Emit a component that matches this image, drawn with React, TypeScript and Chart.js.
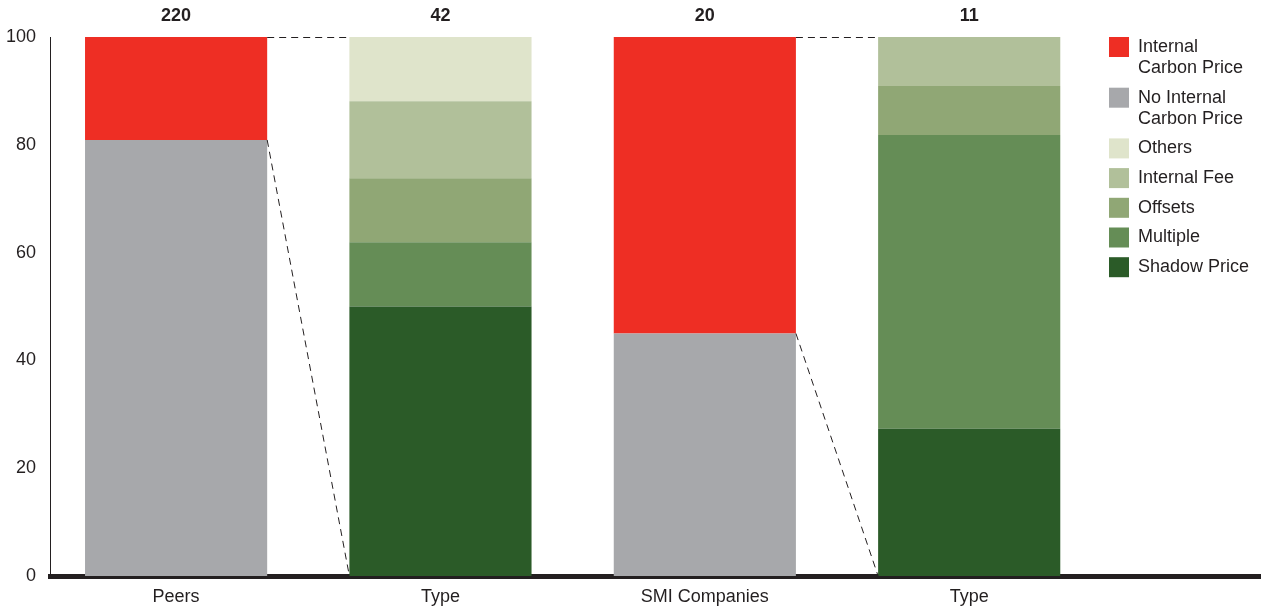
import React, { useEffect, useRef } from 'react';
import { Chart, registerables } from 'chart.js';

Chart.register(...registerables);

// ---- data ----
const categories = ['Peers', 'Type', 'SMI Companies', 'Type'];
const companyCounts = ['220', '42', '20', '11'];
const yTickValues = [0, 20, 40, 60, 80, 100];

const noInternalCarbonPrice = [80.9, null, 45, null];
const internalCarbonPrice = [19.1, null, 55, null];
const shadowPrice = [null, 50, null, 27.3];
const multiple = [null, 11.9, null, 54.5];
const offsets = [null, 11.9, null, 9.1];
const internalFee = [null, 14.3, null, 9.1];
const others = [null, 11.9, null, 0];

// pairs of (overview bar, breakdown bar) linked by dashed lines
const connectorPairs = [
  [0, 1],
  [2, 3],
];

const COLORS = {
  icp: '#EE2E24',
  noIcp: '#A7A8AB',
  others: '#DFE4CB',
  fee: '#B1C09A',
  offsets: '#90A775',
  multiple: '#658D56',
  shadow: '#2B5B28',
};

const TEXT = '#231f20';
const FONT_FAMILY = '"Liberation Sans", Arial, Helvetica, sans-serif';

// stacking order: first dataset sits at the bottom
const seriesDefs = [
  { key: 'noIcp', label: 'No Internal Carbon Price', values: noInternalCarbonPrice, color: COLORS.noIcp },
  { key: 'icp', label: 'Internal Carbon Price', values: internalCarbonPrice, color: COLORS.icp },
  { key: 'shadow', label: 'Shadow Price', values: shadowPrice, color: COLORS.shadow },
  { key: 'multiple', label: 'Multiple', values: multiple, color: COLORS.multiple },
  { key: 'offsets', label: 'Offsets', values: offsets, color: COLORS.offsets },
  { key: 'fee', label: 'Internal Fee', values: internalFee, color: COLORS.fee },
  { key: 'others', label: 'Others', values: others, color: COLORS.others },
];

const legendEntries = [
  { lines: ['Internal', 'Carbon Price'], color: COLORS.icp },
  { lines: ['No Internal', 'Carbon Price'], color: COLORS.noIcp },
  { lines: ['Others'], color: COLORS.others },
  { lines: ['Internal Fee'], color: COLORS.fee },
  { lines: ['Offsets'], color: COLORS.offsets },
  { lines: ['Multiple'], color: COLORS.multiple },
  { lines: ['Shadow Price'], color: COLORS.shadow },
];

const decorPlugin = {
  id: 'decor',
  afterDatasetsDraw(chart: any) {
    const ctx = chart.ctx;
    const xS = chart.scales.x;
    const yS = chart.scales.y;
    ctx.save();

    // count labels above bars
    ctx.fillStyle = TEXT;
    ctx.font = `bold 18px ${FONT_FAMILY}`;
    ctx.textAlign = 'center';
    ctx.textBaseline = 'middle';
    companyCounts.forEach((c, i) => {
      ctx.fillText(c, xS.getPixelForValue(i), yS.getPixelForValue(100) - 21);
    });

    // dashed connectors
    const icpMeta = chart.getDatasetMeta(1);
    const shadowMeta = chart.getDatasetMeta(2);
    ctx.strokeStyle = TEXT;
    ctx.lineWidth = 1;
    ctx.setLineDash([7, 5]);
    connectorPairs.forEach(([a, b]) => {
      const ea = icpMeta.data[a].getProps(['x', 'width'], true);
      const eb = shadowMeta.data[b].getProps(['x', 'width'], true);
      const x1 = ea.x + ea.width / 2;
      const x2 = eb.x - eb.width / 2;
      const yTop = yS.getPixelForValue(100) + 0.5;
      const ySplit = yS.getPixelForValue(noInternalCarbonPrice[a] as number);
      const yBase = yS.getPixelForValue(0);
      ctx.beginPath();
      ctx.moveTo(x1, yTop);
      ctx.lineTo(x2, yTop);
      ctx.stroke();
      ctx.beginPath();
      ctx.moveTo(x1, ySplit);
      ctx.lineTo(x2, yBase);
      ctx.stroke();
    });
    ctx.setLineDash([]);
    ctx.restore();
  },
  afterDraw(chart: any) {
    const ctx = chart.ctx;
    ctx.save();
    const sx = chart.width - 152;
    let y = chart.scales.y.getPixelForValue(100);
    ctx.font = `18px ${FONT_FAMILY}`;
    ctx.textAlign = 'left';
    ctx.textBaseline = 'middle';
    legendEntries.forEach((e) => {
      ctx.fillStyle = e.color;
      ctx.fillRect(sx, y, 20, 20);
      ctx.fillStyle = TEXT;
      e.lines.forEach((ln, k) => {
        ctx.fillText(ln, sx + 29, y + 10 + k * 21);
      });
      y += 29.7 + (e.lines.length - 1) * 21;
    });
    ctx.restore();
  },
};

export default function App() {
  const canvasRef = useRef<HTMLCanvasElement | null>(null);

  useEffect(() => {
    document.body.style.margin = '0';
    const canvas = canvasRef.current;
    if (!canvas) return;
    const chart = new Chart(canvas, {
      type: 'bar',
      data: {
        datasets: seriesDefs.map((s) => ({
          label: s.label,
          data: s.values.map((v, i) => ({ x: i, y: v })),
          backgroundColor: s.color,
          borderWidth: 0,
          stack: 'all',
          categoryPercentage: 0.689,
          barPercentage: 1,
        })),
      },
      options: {
        responsive: false,
        animation: false,
        layout: { padding: { top: 37, right: 1, bottom: 0, left: 0 } },
        plugins: {
          legend: { display: false },
          tooltip: { enabled: false },
        },
        scales: {
          x: {
            type: 'linear',
            offset: false,
            min: -0.477,
            max: 4.1,
            stacked: true,
            z: 1,
            grid: { display: false, drawTicks: false },
            border: { display: true, color: TEXT, width: 5 },
            afterBuildTicks: (s: any) => {
              s.ticks = categories.map((_, i) => ({ value: i }));
            },
            afterFit: (s: any) => {
              s.height = 33;
            },
            ticks: {
              padding: 10,
              color: TEXT,
              autoSkip: false,
              maxRotation: 0,
              font: { family: FONT_FAMILY, size: 18 },
              callback: (v: any) => categories[v] ?? '',
            },
          },
          y: {
            min: 0,
            max: 100,
            stacked: true,
            grid: { display: false, drawTicks: false },
            border: { display: true, color: TEXT, width: 1 },
            afterBuildTicks: (s: any) => {
              s.ticks = yTickValues.map((v) => ({ value: v }));
            },
            afterFit: (s: any) => {
              s.width = 50;
            },
            ticks: {
              padding: 14,
              color: TEXT,
              font: { family: FONT_FAMILY, size: 18 },
            },
          },
        },
      } as any,
      plugins: [decorPlugin],
    });
    return () => chart.destroy();
  }, []);

  return (
    <div style={{ width: 1261, height: 609, position: 'relative' }}>
      <canvas ref={canvasRef} width={1261} height={609} style={{ display: 'block' }} />
    </div>
  );
}
